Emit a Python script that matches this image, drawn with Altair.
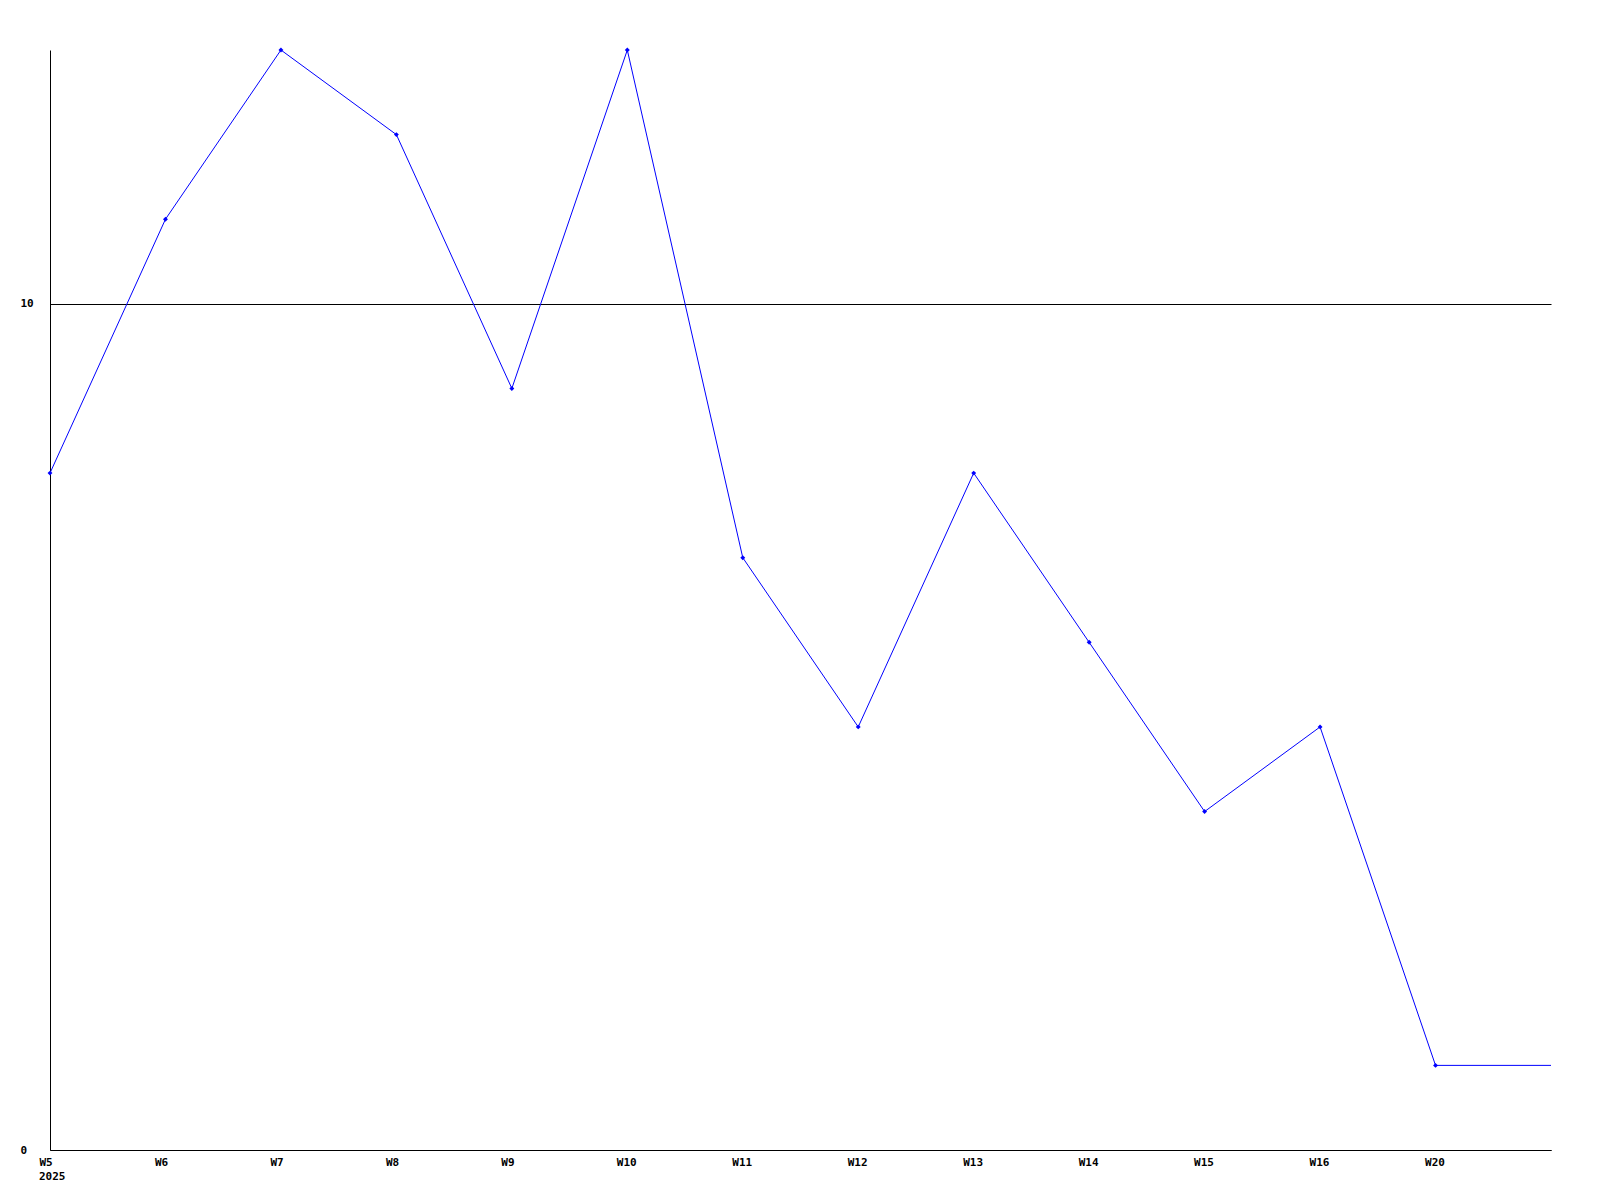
import altair as alt
import pandas as pd
import json

weeks = ["W5", "W6", "W7", "W8", "W9", "W10", "W11", "W12", "W13", "W14", "W15", "W16", "W20"]
values = [8, 11, 13, 12, 9, 13, 7, 5, 8, 6, 4, 5, 1]
year_label = "2025"
y_ticks = [0, 10]

idx = list(range(len(weeks)))
pts = pd.DataFrame({"i": idx, "week": weeks, "v": values})
# line continues flat to the right edge of the plot
line_df = pd.DataFrame({"i": idx + [len(weeks)], "v": values + [values[-1]]})

FONT = "DejaVu Sans Mono"
label_expr = json.dumps(weeks) + "[datum.value]"

x_scale = alt.Scale(domain=[0, len(weeks)], nice=False, zero=False)
y_scale = alt.Scale(domain=[0, 13], nice=False)

x_axis = alt.Axis(values=idx, labelExpr=label_expr, ticks=False, grid=False,
                  domainColor="black", labelColor="black", labelFont=FONT,
                  labelFontWeight="bold", labelFontSize=11, labelPadding=6,
                  labelAlign="left", labelOffset=-11,
                  title=None, labelFlush=False)
y_axis = alt.Axis(values=y_ticks, format="d", ticks=False, grid=True, gridColor="black",
                  gridOpacity=1, domainColor="black", labelColor="black",
                  labelFont=FONT, labelFontWeight="bold", labelFontSize=11,
                  labelAlign="left", labelPadding=30, title=None)

line = alt.Chart(line_df).mark_line(color="#0000ff", strokeWidth=1).encode(
    x=alt.X("i:Q", scale=x_scale, axis=x_axis),
    y=alt.Y("v:Q", scale=y_scale, axis=y_axis),
)
points = alt.Chart(pts).mark_point(shape="diamond", filled=True, size=24,
                                   color="#0000ff", opacity=1).encode(
    x=alt.X("i:Q", scale=x_scale),
    y=alt.Y("v:Q", scale=y_scale),
)
year = alt.Chart(pd.DataFrame({"t": [year_label]})).mark_text(
    font=FONT, fontWeight="bold", fontSize=11, color="black", align="left",
    baseline="middle"
).encode(x=alt.value(-11), y=alt.value(1127), text="t:N")

chart = alt.layer(line, points, year).properties(
    width=1501, height=1100,
    background="white",
    autosize=alt.AutoSizeParams(type="none"),
    padding={"left": 42, "top": 42, "right": 40, "bottom": 40},
).configure_view(strokeWidth=0, stroke="transparent")

chart.save("out.html", embed_options={"renderer": "svg", "actions": False})
